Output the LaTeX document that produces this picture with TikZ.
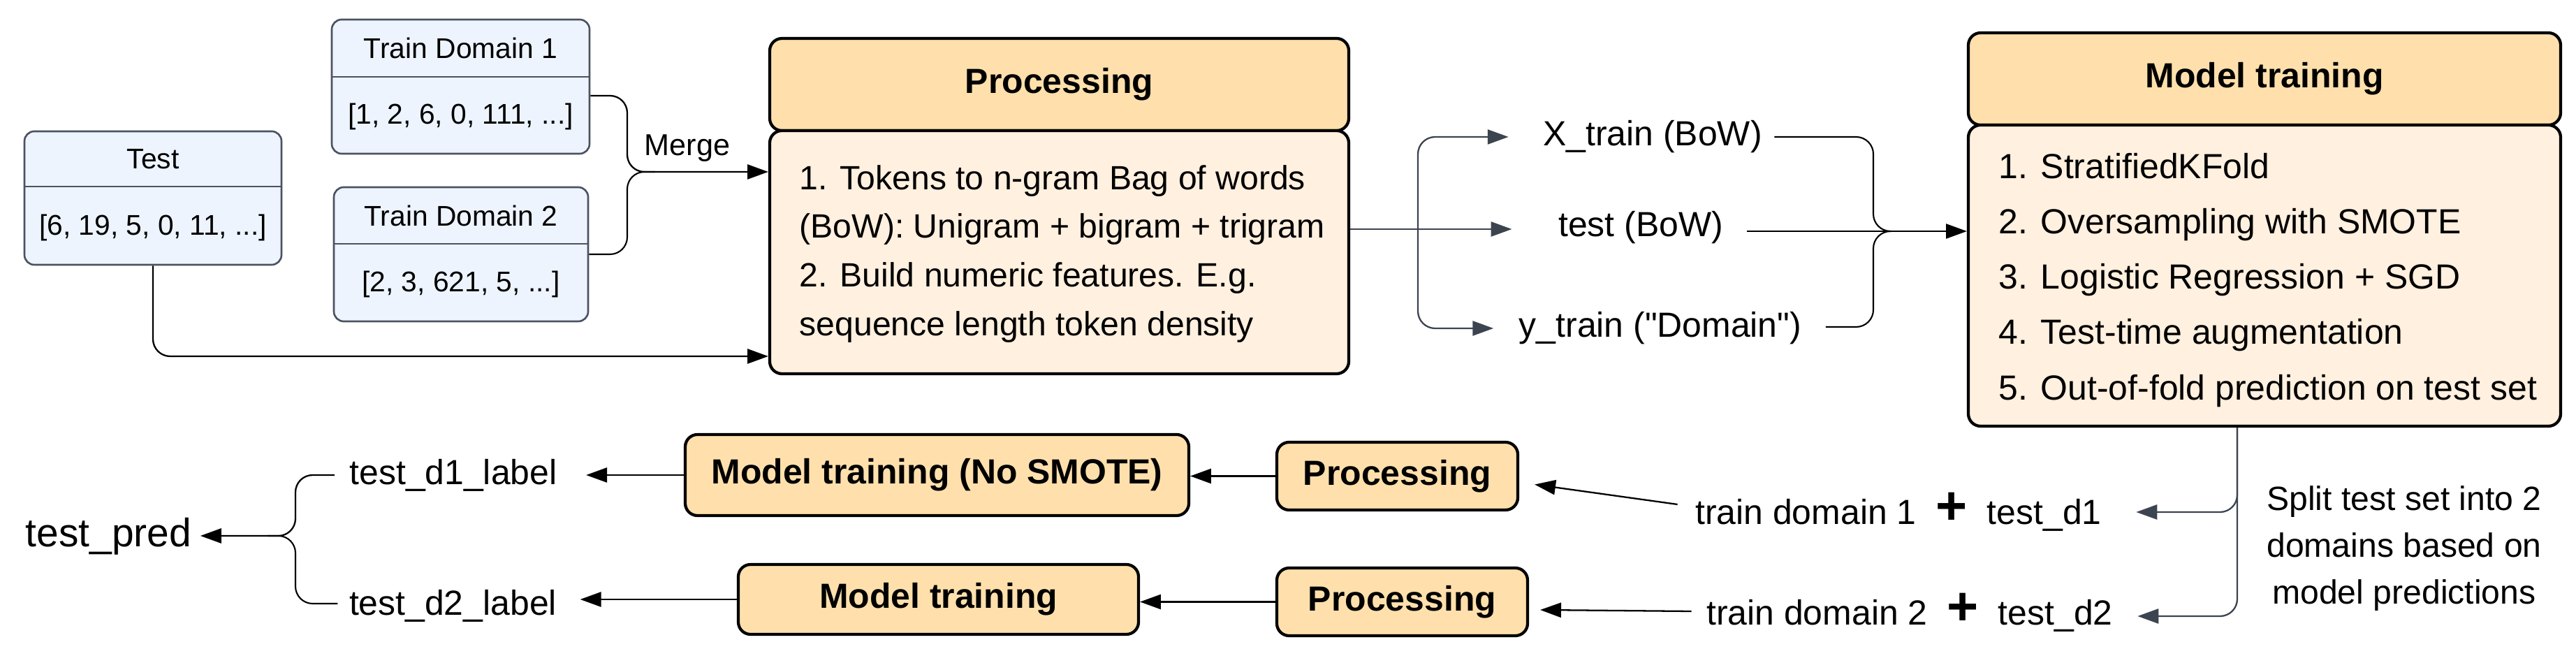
\documentclass[tikz,border=0pt]{standalone}
\usepackage{fontspec}
\setmainfont{Liberation Sans}[Ligatures=TeXOff]
\usetikzlibrary{arrows.meta,calc}
\definecolor{boxblue}{HTML}{EEF4FE}
\definecolor{boxline}{HTML}{4B5260}
\definecolor{headorange}{HTML}{FFE0AC}
\definecolor{bodyorange}{HTML}{FFF0DF}
\definecolor{slate}{HTML}{3C4450}

\begin{document}
\begin{tikzpicture}[
  listbox/.style={draw=boxline,line width=0.75pt,fill=boxblue,rounded corners=4pt,inner sep=0pt},
  headbox/.style={draw=black,line width=1.2pt,fill=headorange,rounded corners=5pt,inner sep=0pt,font=\fontsize{14.2}{17}\selectfont\bfseries},
  bodybox/.style={draw=black,line width=1.2pt,fill=bodyorange,rounded corners=5pt,inner sep=0pt},
  smalltext/.style={font=\fontsize{11.6}{14}\selectfont,inner sep=0pt},
  plaintext/.style={font=\fontsize{14.2}{17}\selectfont,inner sep=0pt},
  arrow/.style={draw=black,line width=0.65pt,-{Triangle[length=8.5pt,width=6pt]}},
  slatearrow/.style={draw=slate,line width=0.65pt,-{Triangle[length=8.5pt,width=6pt]}},
  link/.style={draw=black,line width=0.6pt},
  slatelink/.style={draw=slate,line width=0.6pt}
]
\useasboundingbox (0,0) rectangle (36.88,-9.39);

% Draw the three input lists
\node[listbox,minimum width=3.68cm,minimum height=1.91cm] (test) at (2.19,-2.835) {};
\draw[boxline,line width=0.75pt] (test.west |- 0,-2.67) -- (test.east |- 0,-2.67);
\node[smalltext] (testtitle) at (2.19,-2.28) {Test};
\node[smalltext] (testvals) at (2.19,-3.26) {[6, 19, 5, 0, 11, ...]};

\node[listbox,minimum width=3.69cm,minimum height=1.92cm] (dom1) at (6.595,-1.24) {};
\draw[boxline,line width=0.75pt] (dom1.west |- 0,-1.10) -- (dom1.east |- 0,-1.10);
\node[smalltext] (dom1title) at (6.595,-0.69) {Train Domain 1};
\node[smalltext] (dom1vals) at (6.595,-1.67) {[1, 2, 6, 0, 111, ...]};

\node[listbox,minimum width=3.64cm,minimum height=1.92cm] (dom2) at (6.60,-3.64) {};
\draw[boxline,line width=0.75pt] (dom2.west |- 0,-3.49) -- (dom2.east |- 0,-3.49);
\node[smalltext] (dom2title) at (6.60,-3.09) {Train Domain 2};
\node[smalltext] (dom2vals) at (6.60,-4.07) {[2, 3, 621, 5, ...]};

% Draw the processing block
\node[headbox,minimum width=8.29cm,minimum height=1.32cm] (prochead) at (15.165,-1.21) {Processing};
\node[bodybox,minimum width=8.29cm,minimum height=3.48cm] (procbody) at (15.165,-3.61) {};
\node[font=\fontsize{13.7}{19.9}\selectfont,align=left,anchor=west,inner sep=0pt] (proctext) at (11.44,-3.635)
  {1. Tokens to n-gram Bag of words\\(BoW): Unigram + bigram + trigram\\2. Build numeric features. E.g.\\sequence length token density};

% Merge the two train domains
\coordinate (merge) at (8.98,-2.46);
\draw[arrow,rounded corners=7pt] ([yshift=-0.13cm]dom1.east) -| (merge) -- (merge -| procbody.west);
\draw[link,rounded corners=7pt] ([yshift=0cm]dom2.east) -| (merge) -- ++(0.4,0);
\node[smalltext,font=\fontsize{12.3}{14}\selectfont] (mergelabel) at (9.84,-2.12) {Merge};
\draw[arrow,rounded corners=7pt] (test.south) |- (procbody.west |- 0,-5.10);

% Draw the features
\node[plaintext] (xtrain) at (23.66,-1.96) {X\_train (BoW)};
\node[plaintext] (testbow) at (23.49,-3.26) {test (BoW)};
\node[plaintext] (ytrain) at (23.77,-4.70) {y\_train ("Domain")};
\coordinate (split) at (20.30,-3.28);
\draw[slatelink] (procbody.east |- split) -- (split);
\draw[slatearrow,rounded corners=7pt,shorten >=0.49cm] (split) |- (xtrain.west);
\draw[slatearrow,shorten >=0.66cm] (split) -- (split -| testbow.west);
\draw[slatearrow,rounded corners=7pt,shorten >=0.36cm] (split) |- (ytrain.west);

% Draw the model training block
\node[headbox,minimum width=8.48cm,minimum height=1.32cm] (mthead) at (32.42,-1.13) {Model training};
\node[bodybox,minimum width=8.48cm,minimum height=4.31cm] (mtbody) at (32.42,-3.945) {};
\node[font=\fontsize{14.2}{22.5}\selectfont,align=left,anchor=west,inner sep=0pt] (mttext) at (28.61,-4.01)
  {1. StratifiedKFold\\2. Oversampling with SMOTE\\3. Logistic Regression + SGD\\4. Test-time augmentation\\5. Out-of-fold prediction on test set};

% Join the features into the model
\coordinate (join) at (26.82,-3.31);
\draw[link,rounded corners=7pt] ([xshift=0.17cm]xtrain.east) -| (join) -- ++(0.25,0);
\draw[link,rounded corners=7pt] ([xshift=0.34cm,yshift=0.02cm]ytrain.east) -| (join) -- ++(0.25,0);
\draw[arrow] ($(testbow.east |- join)+(0.33,0)$) -- (join -| mtbody.west);

% Split the test set by predicted domain
\node[plaintext] (pair1) at (27.18,-7.33) {train domain 1\hspace{8pt}{\fontsize{22}{22}\selectfont\bfseries +}\hspace{8pt}test\_d1};
\node[plaintext] (pair2) at (27.34,-8.77) {train domain 2\hspace{8pt}{\fontsize{22}{22}\selectfont\bfseries +}\hspace{8pt}test\_d2};
\coordinate (splitout) at ([xshift=-0.39cm]mtbody.south);
\draw[slatearrow,rounded corners=7pt,shorten >=0.49cm] (splitout) |- (pair1.east);
\draw[slatearrow,rounded corners=7pt,shorten >=0.35cm] (splitout) |- ([yshift=-0.05cm]pair2.east);
\node[font=\fontsize{13.7}{19}\selectfont,align=center,inner sep=0pt] (splitnote) at (34.42,-7.85)
  {Split test set into 2\\domains based on\\model predictions};

% Draw the second stage
\node[headbox,minimum width=3.45cm,minimum height=0.97cm] (proc1) at (20.005,-6.815) {Processing};
\node[headbox,minimum width=3.59cm,minimum height=0.97cm] (proc2) at (20.075,-8.615) {Processing};
\node[headbox,minimum width=7.21cm,minimum height=1.16cm] (nosmote) at (13.415,-6.80) {Model training (No SMOTE)};
\node[headbox,minimum width=5.73cm,minimum height=1.00cm] (mt2) at (13.435,-8.58) {Model training};
\draw[arrow] ([xshift=-0.25cm,yshift=0.11cm]pair1.west) -- ([xshift=0.22cm,yshift=-0.12cm]proc1.east);
\draw[arrow] ([xshift=-0.21cm,yshift=0.02cm]pair2.west) -- ([xshift=0.16cm,yshift=-0.115cm]proc2.east);
\draw[arrow] (proc1.west) -- (proc1.west -| nosmote.east);
\draw[arrow] (proc2.west) -- (proc2.west -| mt2.east);

% Draw the domain labels and the final prediction
\node[plaintext] (d1label) at (6.49,-6.80) {test\_d1\_label};
\node[plaintext] (d2label) at (6.485,-8.67) {test\_d2\_label};
\node[plaintext,font=\fontsize{16.2}{19}\selectfont] (testpred) at (1.555,-7.68) {test\_pred};
\draw[arrow] (nosmote.west) -- ([xshift=0.41cm]d1label.east |- nosmote.west);
\draw[arrow] (mt2.west) -- ([xshift=0.33cm]d2label.east |- mt2.west);
\coordinate (predjoin) at (4.23,-7.67);
\draw[arrow,rounded corners=7pt] ([xshift=-0.21cm]d1label.west) -| (predjoin) -- ([xshift=0.12cm]testpred.east |- predjoin);
\draw[link,rounded corners=7pt] ([xshift=-0.16cm,yshift=0.03cm]d2label.west) -| (predjoin) -- ++(-0.4,0);
\end{tikzpicture}
\end{document}
